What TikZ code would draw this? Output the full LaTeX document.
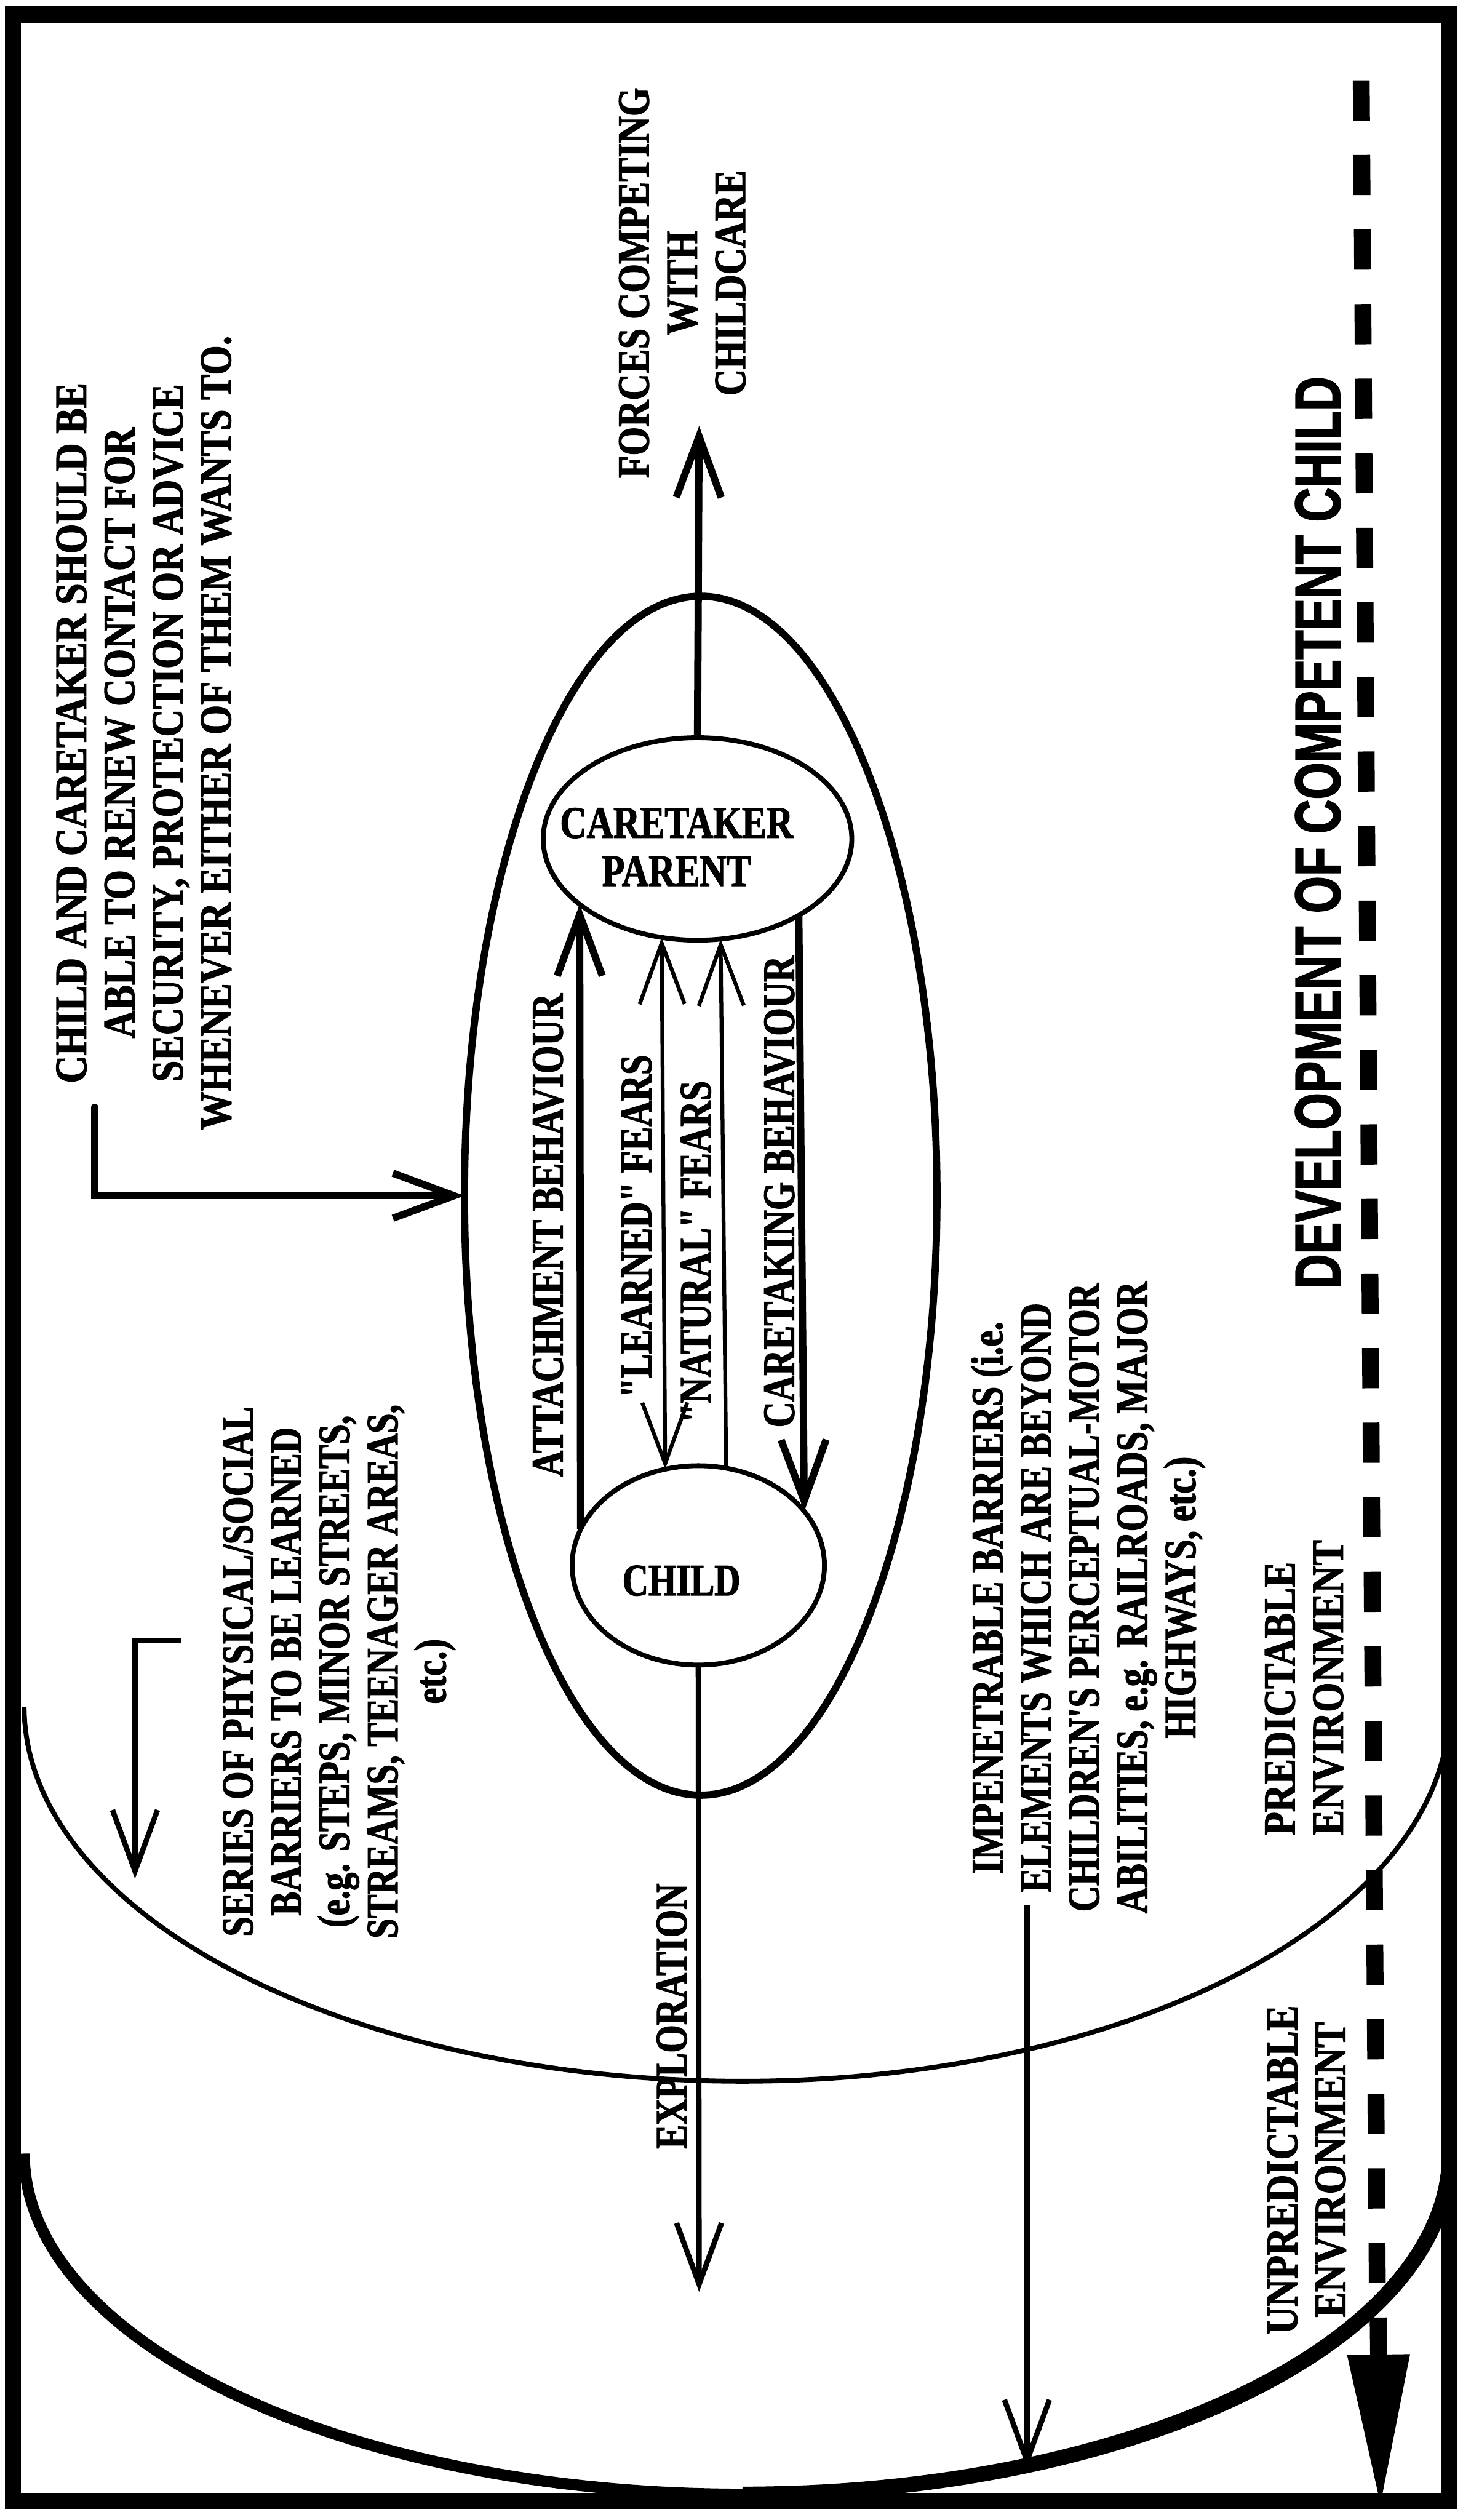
\documentclass[tikz,border=0pt]{standalone}
\usepackage{fontspec}
\usetikzlibrary{arrows.meta,shapes.geometric}
\newfontfamily\wideserif[FakeStretch=0.85, FakeBold=1.6]{Liberation Serif}
\newfontfamily\midserif[FakeStretch=0.82, FakeBold=1.6]{Liberation Serif}
\newfontfamily\narrowserif[FakeStretch=0.80, FakeBold=1.6]{Liberation Serif}
\newfontfamily\headsans[FakeStretch=0.74, FakeBold=1.6]{Liberation Sans}
\tikzset{
  frameline/.style={line width=10pt},
  innerzone/.style={line width=3pt},
  homeoval/.style={ellipse, draw, line width=4.5pt, inner sep=0pt, outer sep=0pt},
  person/.style={ellipse, draw, line width=3pt, inner sep=0pt, outer sep=0pt},
  heavy/.style={line width=4.5pt},
  medium/.style={line width=3.3pt},
  light/.style={line width=2.4pt},
  devline/.style={line width=10.5pt, dash pattern=on 25pt off 21.4pt},
  upright/.style={rotate=90, inner sep=0pt, outer sep=0pt, align=center},
  txtwide/.style={font=\wideserif\bfseries\fontsize{28pt}{30pt}\selectfont},
  txtmid/.style={font=\midserif\bfseries\fontsize{28pt}{30pt}\selectfont},
  txtnarrow/.style={font=\narrowserif\bfseries\fontsize{28pt}{30pt}\selectfont},
  txthead/.style={font=\headsans\bfseries\fontsize{40pt}{42pt}\selectfont},
}
\begin{document}
\begin{tikzpicture}[x=1pt, y=-1pt, >={Straight Barb[length=38pt,width=28pt]}]
\fill[white] (0,0) rectangle (910,1568);
\useasboundingbox (0,0) rectangle (910,1568);

% boundary between predictable and unpredictable environment
\draw[innerzone] plot[domain=90:180, samples=80, variable=\t] ({462+447*cos(\t)}, {1062+233*sin(\t)});
\draw[innerzone] plot[domain=0:90, samples=80, variable=\t] ({462+440*cos(\t)}, {1062+233*sin(\t)});
% outer limit of the unpredictable environment
\draw[line width=7pt] plot[domain=90:180, samples=80, variable=\t] ({462+447*cos(\t)}, {1340+212*sin(\t)});
\draw[line width=9.5pt] plot[domain=0:90, samples=80, variable=\t] ({462+440*cos(\t)}, {1340+212*sin(\t)});
\draw[frameline] (8,9) rectangle (902,1556);

% home range and the two persons
\node[homeoval, minimum width=294pt, minimum height=746pt] (home) at (436,744) {};
\node[person, minimum width=192pt, minimum height=126pt] (caretaker) at (434,522) {};
\node[person, minimum width=157pt, minimum height=124pt] (child) at (434.5,974) {};
\node[txtmid, align=center, inner sep=0pt] (caretakertext) at (421,527) {CARETAKER\\PARENT};
\node[txtnarrow, inner sep=0pt] (childtext) at (424,983.5) {CHILD};

% rotated notes
\node[upright, txtwide] (contactnote) at (89.5,456) {CHILD AND CARETAKER SHOULD BE\\ABLE TO RENEW CONTACT FOR\\SECURITY, PROTECTION OR ADVICE\\WHENEVER EITHER OF THEM WANTS TO.};
\node[upright, txtmid] (forcesnote) at (424.5,176) {FORCES COMPETING\\WITH\\CHILDCARE};
\node[upright, txthead] (devnote) at (820,518) {DEVELOPMENT OF COMPETENT CHILD};
\node[upright, txtnarrow] (seriesnote) at (211,1040) {SERIES OF PHYSICAL/SOCIAL\\BARRIERS TO BE LEARNED\\(e.g. STEPS, MINOR STREETS,\\STREAMS, TEENAGER AREAS,\\etc.)};
\node[upright, txtnarrow] (barriernote) at (677,994) {IMPENETRABLE BARRIERS (i.e.\\ELEMENTS WHICH ARE BEYOND\\CHILDREN'S PERCEPTUAL-MOTOR\\ABILITIES, e.g. RAILROADS, MAJOR\\HIGHWAYS, etc.)};
\node[upright, txtnarrow] (explorenote) at (418,1254.5) {EXPLORATION};
\node[upright, txtwide, align=left, anchor=west] (prednote) at (811.5,1142) {PREDICTABLE\\ENVIRONMENT};
\node[upright, txtwide] (unprednote) at (813,1350) {UNPREDICTABLE\\ENVIRONMENT};
\node[upright, txtnarrow] (attachlabel) at (341,768.5) {ATTACHMENT BEHAVIOUR};
\node[upright, txtnarrow] (learnedlabel) at (396,763) {"LEARNED" FEARS};
\node[upright, txtnarrow] (naturallabel) at (433,779) {"NATURAL" FEARS};
\node[upright, txtnarrow] (caretakinglabel) at (485,741.5) {CARETAKING BEHAVIOUR};

% free ends of connectors
\coordinate (forcestip) at (435,265);
\coordinate (exploretip) at (435,1426);
\coordinate (contactfoot) at (59,689);
\coordinate (seriesfoot) at (113,1021);
\coordinate (seriestip) at (84,1169);
\coordinate (barrierfoot) at (639,1185);
\coordinate (barriertip) at (639,1536);
\coordinate (devtop) at (847,50);
\coordinate (devbot) at (857,1421);
\coordinate (devshaft) at (857.5,1442);
\coordinate (devtip) at (859,1561);

% connectors
\draw[heavy,->] (caretaker.north) -- (forcestip);
\draw[heavy,->] (child.163.5) -- (caretaker.209.3);
\draw[light,<->] (caretaker.250.3) -- (child.109.3);
\draw[light,->] (child.74.8) -- (caretaker.283.6);
\draw[heavy,->] (caretaker.323.7) -- (child.27.6);
\draw[medium,->] (child.south) -- (exploretip);
\draw[heavy,->,line cap=round] (contactfoot) |- (home.west);
\draw[medium,->] (seriesfoot) -| (seriestip);
\draw[medium,->] (barrierfoot) -- (barriertip);

% development axis
\draw[devline] (devtop) -- (devbot);
\draw[line width=10.5pt, -{Triangle[length=96pt,width=36pt]}] (devshaft) -- (devtip);
\end{tikzpicture}
\end{document}
